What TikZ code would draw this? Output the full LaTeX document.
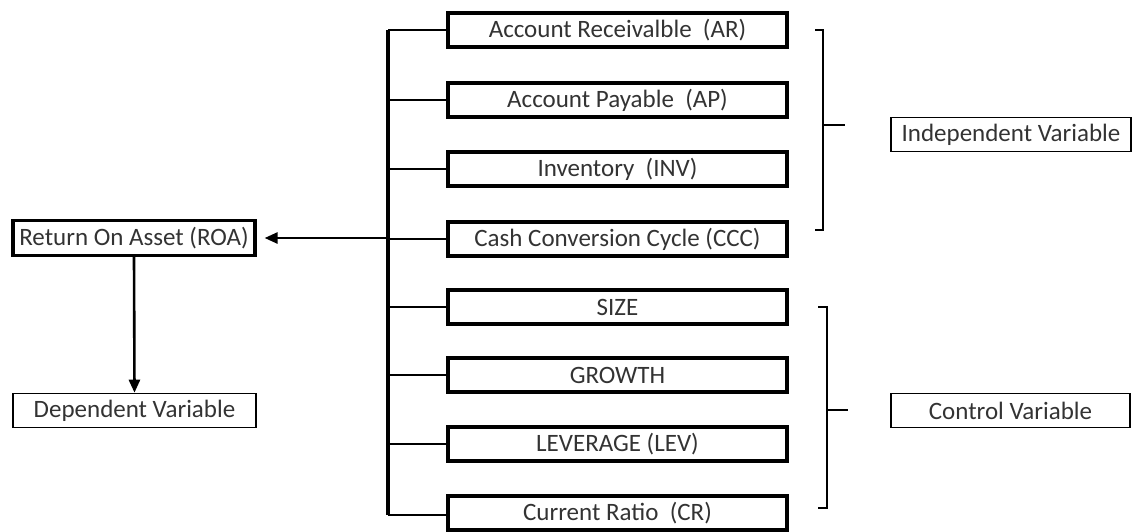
\documentclass[tikz,border=0pt]{standalone}
\usepackage{fontspec}
\setmainfont{Carlito}
\usetikzlibrary{arrows.meta}
\begin{document}
\begin{tikzpicture}[x=1pt,y=-1pt,
  lbl/.style={inner sep=0pt, font=\fontsize{25}{28}\selectfont, text=black!80},
  varbox/.style={lbl, draw, line width=3.2pt, minimum width=339pt, minimum height=34pt},
  thickbox/.style={lbl, draw, line width=3.2pt, minimum width=242pt, minimum height=35pt},
  thinbox/.style={lbl, draw, line width=1.6pt, minimum height=34pt},
  trunk/.style={line width=3.8pt},
  stub/.style={line width=2.8pt},
  brace/.style={line width=2.6pt},
  arr/.style={line width=2.6pt, -{Triangle[length=13pt,width=11pt]}}]
\useasboundingbox (0,0) rectangle (1134,531);

% factor boxes
\node[varbox] (ar)  at (617.5,30)  {Account Receivalble\ \ (AR)};
\node[varbox] (ap)  at (617.5,100) {Account Payable\ \ (AP)};
\node[varbox] (inv) at (617.5,169) {Inventory\ \ (INV)};
\node[varbox] (ccc) at (617.5,239) {Cash Conversion Cycle (CCC)};
\node[varbox] (size) at (617.5,307) {SIZE};
\node[varbox] (gro) at (617.5,375) {GROWTH};
\node[varbox] (lev) at (617.5,444) {LEVERAGE (LEV)};
\node[varbox] (cr)  at (617.5,513) {Current Ratio\ \ (CR)};

% outcome boxes
\node[thickbox] (roa) at (134,238) {Return On Asset (ROA)};
\node[thinbox, minimum width=243pt] (dv) at (134.5,410.5) {Dependent Variable};
\node[thinbox, minimum width=240pt] (iv) at (1011,134.5) {Independent Variable};
\node[thinbox, minimum width=239pt] (cv) at (1010.5,410.5) {Control Variable};

% trunk joining all factors
\coordinate (ttop) at (388,30);
\coordinate (tbot) at (388,515);
\coordinate (tmid) at (388,238);
\draw[trunk] (ttop) -- (tbot);
\foreach \b in {ar,ap,inv,ccc,size,gro,lev}
  \draw[stub] (388,0 |- \b.west) -- (\b.west);
\draw[stub] (tbot) -- (cr.west |- tbot);
\draw[arr] (tmid) -- ([xshift=8pt]roa.east);
\draw[arr] (roa.south) -- (dv.north);

% brackets
\coordinate (ib1) at (815,30);  \coordinate (ib2) at (823,30);
\coordinate (ib3) at (823,230); \coordinate (ib4) at (815,230);
\coordinate (im) at (823,125);  \coordinate (it) at (845,125);
\draw[brace] (ib1) -- (ib2) -- (ib3) -- (ib4);
\draw[brace] (im) -- (it);

\coordinate (cb1) at (818,307); \coordinate (cb2) at (827,307);
\coordinate (cb3) at (827,508); \coordinate (cb4) at (818,508);
\coordinate (cm) at (827,410);  \coordinate (ct) at (848,410);
\draw[brace] (cb1) -- (cb2) -- (cb3) -- (cb4);
\draw[brace] (cm) -- (ct);
\end{tikzpicture}
\end{document}
